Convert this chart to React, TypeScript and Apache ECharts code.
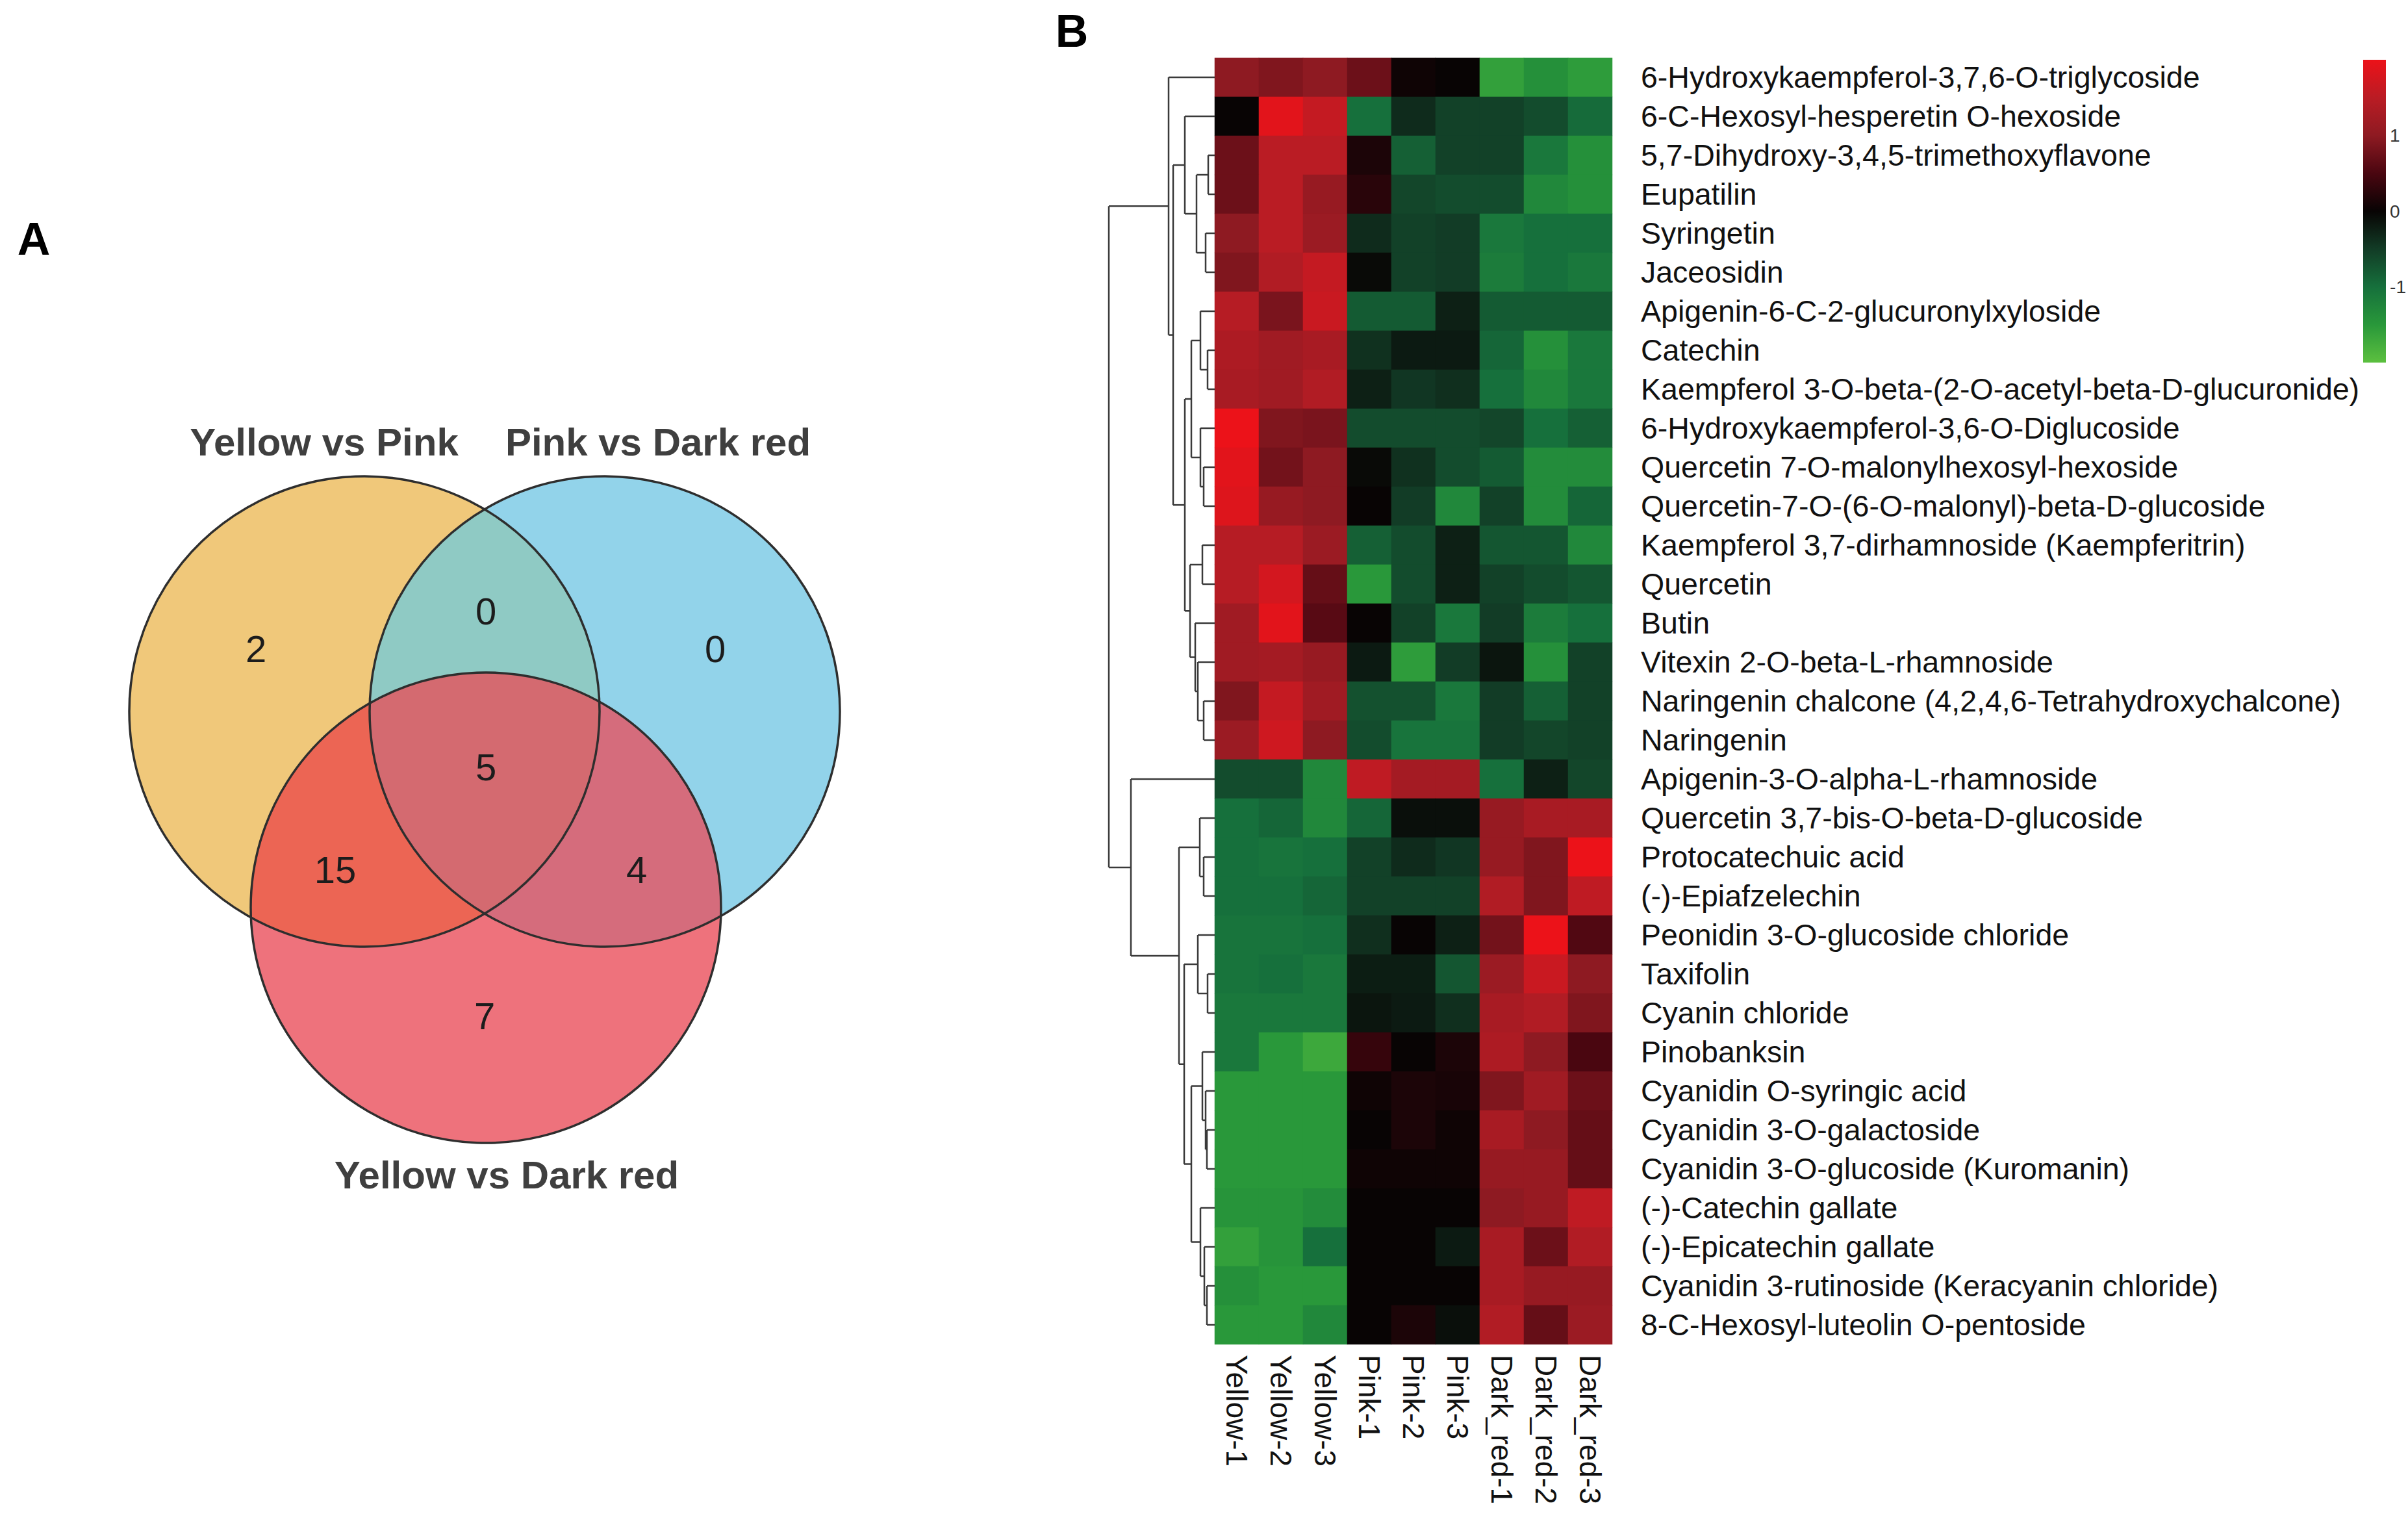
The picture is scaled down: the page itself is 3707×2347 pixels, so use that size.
import React, { useEffect, useRef } from 'react';
import * as echarts from 'echarts';

// ---------------- DATA ----------------
const sampleNames = ['Yellow-1', 'Yellow-2', 'Yellow-3', 'Pink-1', 'Pink-2', 'Pink-3', 'Dark_red-1', 'Dark_red-2', 'Dark_red-3'];

const compounds = [
  '6-Hydroxykaempferol-3,7,6-O-triglycoside',
  '6-C-Hexosyl-hesperetin O-hexoside',
  '5,7-Dihydroxy-3,4,5-trimethoxyflavone',
  'Eupatilin',
  'Syringetin',
  'Jaceosidin',
  'Apigenin-6-C-2-glucuronylxyloside',
  'Catechin',
  'Kaempferol 3-O-beta-(2-O-acetyl-beta-D-glucuronide)',
  '6-Hydroxykaempferol-3,6-O-Diglucoside',
  'Quercetin 7-O-malonylhexosyl-hexoside',
  'Quercetin-7-O-(6-O-malonyl)-beta-D-glucoside',
  'Kaempferol 3,7-dirhamnoside (Kaempferitrin)',
  'Quercetin',
  'Butin',
  'Vitexin 2-O-beta-L-rhamnoside',
  'Naringenin chalcone (4,2,4,6-Tetrahydroxychalcone)',
  'Naringenin',
  'Apigenin-3-O-alpha-L-rhamnoside',
  'Quercetin 3,7-bis-O-beta-D-glucoside',
  'Protocatechuic acid',
  '(-)-Epiafzelechin',
  'Peonidin 3-O-glucoside chloride',
  'Taxifolin',
  'Cyanin chloride',
  'Pinobanksin',
  'Cyanidin O-syringic acid',
  'Cyanidin 3-O-galactoside',
  'Cyanidin 3-O-glucoside (Kuromanin)',
  '(-)-Catechin gallate',
  '(-)-Epicatechin gallate',
  'Cyanidin 3-rutinoside (Keracyanin chloride)',
  '8-C-Hexosyl-luteolin O-pentoside',
];

// z-scores, one row per compound, columns in sampleNames order
const zScores: number[][] = [
  [1.0, 0.9, 1.0, 0.75, 0.05, 0.0, -1.6, -1.4, -1.55],
  [0.0, 1.9, 1.6, -1.0, -0.35, -0.55, -0.55, -0.65, -0.95],
  [0.75, 1.5, 1.5, 0.15, -0.85, -0.55, -0.55, -1.1, -1.4],
  [0.75, 1.5, 1.1, 0.25, -0.6, -0.65, -0.65, -1.3, -1.4],
  [1.0, 1.5, 1.15, -0.35, -0.55, -0.5, -1.1, -1.0, -1.0],
  [0.9, 1.4, 1.6, -0.05, -0.55, -0.5, -1.15, -1.0, -1.1],
  [1.45, 0.85, 1.65, -0.8, -0.8, -0.25, -0.8, -0.8, -0.8],
  [1.35, 1.2, 1.3, -0.4, -0.2, -0.2, -0.9, -1.4, -1.1],
  [1.3, 1.2, 1.4, -0.25, -0.45, -0.38, -1.0, -1.3, -1.1],
  [2.0, 0.9, 0.85, -0.65, -0.65, -0.65, -0.6, -1.0, -0.85],
  [1.9, 0.8, 1.0, -0.05, -0.4, -0.65, -0.8, -1.35, -1.35],
  [1.85, 1.1, 1.0, 0.0, -0.5, -1.3, -0.55, -1.35, -0.9],
  [1.45, 1.45, 1.15, -0.85, -0.65, -0.25, -0.75, -0.75, -1.3],
  [1.45, 1.75, 0.7, -1.5, -0.65, -0.25, -0.55, -0.65, -0.75],
  [1.2, 1.9, 0.6, 0.0, -0.55, -1.1, -0.5, -1.15, -1.0],
  [1.2, 1.25, 1.1, -0.2, -1.55, -0.5, -0.15, -1.4, -0.55],
  [0.9, 1.6, 1.2, -0.7, -0.7, -1.1, -0.5, -0.85, -0.55],
  [1.15, 1.7, 1.0, -0.65, -1.05, -1.05, -0.5, -0.6, -0.55],
  [-0.65, -0.65, -1.3, 1.55, 1.25, 1.25, -1.0, -0.25, -0.6],
  [-1.0, -0.9, -1.3, -0.9, -0.1, -0.1, 1.1, 1.3, 1.3],
  [-1.0, -1.05, -1.0, -0.55, -0.35, -0.45, 1.1, 0.9, 2.0],
  [-1.0, -1.0, -0.9, -0.55, -0.55, -0.55, 1.4, 0.9, 1.55],
  [-1.05, -1.05, -1.0, -0.38, 0.0, -0.25, 0.8, 2.0, 0.55],
  [-1.05, -1.0, -1.1, -0.22, -0.22, -0.75, 1.15, 1.65, 1.0],
  [-1.1, -1.1, -1.1, -0.15, -0.2, -0.38, 1.3, 1.4, 0.9],
  [-1.1, -1.5, -1.7, 0.35, 0.0, 0.15, 1.35, 1.0, 0.5],
  [-1.5, -1.5, -1.5, 0.05, 0.15, 0.12, 0.9, 1.2, 0.75],
  [-1.5, -1.5, -1.5, 0.0, 0.15, 0.05, 1.3, 1.0, 0.7],
  [-1.5, -1.5, -1.5, 0.05, 0.05, 0.05, 1.1, 1.1, 0.7],
  [-1.45, -1.45, -1.35, 0.0, 0.0, 0.0, 1.0, 1.1, 1.55],
  [-1.6, -1.45, -1.0, 0.0, 0.0, -0.2, 1.3, 0.75, 1.4],
  [-1.4, -1.5, -1.5, 0.0, 0.0, 0.0, 1.3, 1.1, 1.1],
  [-1.5, -1.5, -1.3, 0.0, 0.15, -0.1, 1.4, 0.7, 1.15],
];

// Row dendrogram merges: [left, right, height]; numbers = row index, strings = earlier merge 'n<k>'
const rowMerges: [number | string, number | string, number][] = [
  [2, 3, 10], // n0
  [4, 5, 14], // n1
  ['n0', 'n1', 28], // n2
  [1, 'n2', 46], // n3
  [7, 8, 11], // n4
  [6, 'n4', 22], // n5
  [10, 11, 17], // n6
  [9, 'n6', 22], // n7
  ['n5', 'n7', 36], // n8
  [12, 13, 19], // n9
  [16, 17, 17], // n10
  [15, 'n10', 26], // n11
  [14, 'n11', 30], // n12
  ['n9', 'n12', 38], // n13
  ['n8', 'n13', 46], // n14
  ['n3', 'n14', 64], // n15
  [0, 'n15', 71], // n16
  [20, 21, 17], // n17
  [19, 'n17', 23], // n18
  [23, 24, 11], // n19
  [22, 'n19', 26], // n20
  [27, 28, 12], // n21
  [26, 'n21', 14], // n22
  [25, 'n22', 19], // n23
  [31, 32, 12], // n24
  [30, 'n24', 16], // n25
  [29, 'n25', 22], // n26
  ['n23', 'n26', 36], // n27
  ['n20', 'n27', 47], // n28
  ['n18', 'n28', 55], // n29
  [18, 'n29', 129], // n30
  ['n16', 'n30', 163], // n31
];

const colorValueMin = -2;
const colorValueMax = 2;
const colorTicks = [-1, 0, 1];

const vennSetNames = ['Yellow vs Pink', 'Pink vs Dark red', 'Yellow vs Dark red'];
const vennRegionSets = [[0], [0, 1], [1], [0, 1, 2], [0, 2], [1, 2], [2]];
const vennRegionCounts = [2, 0, 0, 5, 15, 4, 7];

// ---------------- STYLE / LAYOUT ----------------
const FONT = '"Liberation Sans", Arial, Helvetica, sans-serif';
const heatPalette = ['#5CC03F', '#29983A', '#16703C', '#123C26', '#080404', '#4A0610', '#8E1A22', '#BA1C24', '#EC1219'];

const LAYOUT = {
  heat: { left: 1870, top: 89, cellW: 68, cellH: 60 },
  dendro: { left: 1700, width: 170, max: 170 },
  cbar: { left: 3638, top: 92, width: 35, height: 466 },
  venn: {
    centers: [[561, 1095], [931, 1095], [748, 1397]],
    r: 362,
    setLabelPos: [[499, 680], [1013, 680], [780, 1808]],
    countPos: [[394, 998], [748, 940], [1101, 998], [748, 1180], [516, 1338], [980, 1338], [746, 1563]],
  },
  panelA: [52, 368],
  panelB: [1650, 48],
};

const vennRegionColors = ['#F0C87A', '#8FCAC4', '#92D3EA', '#D46A70', '#EC6554', '#D56C7C', '#EE727C'];

function diskIntersection(cs: { cx: number; cy: number; r: number }[], n = 1440): number[][] {
  const pts: number[][] = [];
  cs.forEach((c, i) => {
    for (let k = 0; k < n; k++) {
      const t = (2 * Math.PI * k) / n;
      const x = c.cx + c.r * Math.cos(t);
      const y = c.cy + c.r * Math.sin(t);
      if (cs.every((o, j) => j === i || Math.hypot(x - o.cx, y - o.cy) <= o.r + 1e-6)) pts.push([x, y]);
    }
  });
  let mx = 0, my = 0;
  pts.forEach((p) => { mx += p[0]; my += p[1]; });
  mx /= pts.length; my /= pts.length;
  pts.sort((a, b) => Math.atan2(a[1] - my, a[0] - mx) - Math.atan2(b[1] - my, b[0] - mx));
  return pts;
}

function buildDendroSegments(): number[][] {
  const pos: Record<string, { y: number; h: number }> = {};
  compounds.forEach((_, i) => { pos['r' + i] = { y: i + 0.5, h: 0 }; });
  const key = (k: number | string) => (typeof k === 'number' ? 'r' + k : k);
  const segs: number[][] = [];
  rowMerges.forEach(([a, b, h], j) => {
    const A = pos[key(a)], B = pos[key(b)];
    segs.push([A.h, A.y, h, A.y]);
    segs.push([B.h, B.y, h, B.y]);
    segs.push([h, A.y, h, B.y]);
    pos['n' + j] = { y: (A.y + B.y) / 2, h };
  });
  return segs;
}

function buildVennGraphics(): any[] {
  const V = LAYOUT.venn;
  const circles = V.centers.map(([cx, cy]) => ({ cx, cy, r: V.r }));
  const els: any[] = [];
  let z = 1;
  [0, 2, 6].forEach((ri) => {
    const c = circles[vennRegionSets[ri][0]];
    els.push({ type: 'circle', z: z++, shape: { cx: c.cx, cy: c.cy, r: c.r }, style: { fill: vennRegionColors[ri] } });
  });
  [1, 4, 5, 3].forEach((ri) => {
    const pts = diskIntersection(vennRegionSets[ri].map((s) => circles[s]));
    els.push({ type: 'polygon', z: z++, shape: { points: pts }, style: { fill: vennRegionColors[ri] } });
  });
  circles.forEach((c) => {
    els.push({ type: 'circle', z: z++, shape: { cx: c.cx, cy: c.cy, r: c.r }, style: { fill: 'none', stroke: '#2e2e2e', lineWidth: 3.5 } });
  });
  vennSetNames.forEach((name, i) => {
    const [x, y] = V.setLabelPos[i];
    els.push({
      type: 'text', z: z++, x, y,
      style: { text: name, fill: '#3f3f3f', fontSize: 60, fontWeight: 'bold', fontFamily: FONT, align: 'center', verticalAlign: 'middle', textAlign: 'center', textVerticalAlign: 'middle' },
    });
  });
  vennRegionCounts.forEach((cnt, i) => {
    const [x, y] = V.countPos[i];
    els.push({
      type: 'text', z: z++, x, y,
      style: { text: String(cnt), fill: '#1c1c1c', fontSize: 58, fontFamily: FONT, align: 'center', verticalAlign: 'middle', textAlign: 'center', textVerticalAlign: 'middle' },
    });
  });
  return els;
}

export default function App() {
  const ref = useRef<HTMLDivElement>(null);

  useEffect(() => {
    if (!ref.current) return;
    const chart = echarts.init(ref.current, undefined, { renderer: 'svg' });
    const H = LAYOUT.heat;
    const gridW = sampleNames.length * H.cellW;
    const gridH = compounds.length * H.cellH;

    const heatData: number[][] = [];
    zScores.forEach((row, ri) => row.forEach((v, ci) => heatData.push([ci, ri, v])));

    const segs = buildDendroSegments();
    const C = LAYOUT.cbar;

    const gradStops = heatPalette.map((c, i) => ({ offset: 1 - i / (heatPalette.length - 1), color: c })).reverse();

    const graphics: any[] = [
      ...buildVennGraphics(),
      {
        type: 'rect', z: 100,
        shape: { x: C.left, y: C.top, width: C.width, height: C.height },
        style: { fill: new echarts.graphic.LinearGradient(0, 0, 0, 1, gradStops) },
      },
      {
        type: 'text', z: 100, x: LAYOUT.panelA[0], y: LAYOUT.panelA[1],
        style: { text: 'A', fill: '#000', fontSize: 70, fontWeight: 'bold', fontFamily: FONT, align: 'center', verticalAlign: 'middle', textAlign: 'center', textVerticalAlign: 'middle' },
      },
      {
        type: 'text', z: 100, x: LAYOUT.panelB[0], y: LAYOUT.panelB[1],
        style: { text: 'B', fill: '#000', fontSize: 70, fontWeight: 'bold', fontFamily: FONT, align: 'center', verticalAlign: 'middle', textAlign: 'center', textVerticalAlign: 'middle' },
      },
    ];

    const option: any = {
      animation: false,
      backgroundColor: '#ffffff',
      grid: [
        { left: H.left, top: H.top, width: gridW, height: gridH },
        { left: LAYOUT.dendro.left, top: H.top, width: LAYOUT.dendro.width, height: gridH },
        { left: C.left, top: C.top, width: C.width, height: C.height },
      ],
      xAxis: [
        {
          gridIndex: 0, type: 'category', data: sampleNames, position: 'bottom',
          axisLine: { show: false }, axisTick: { show: false }, splitLine: { show: false },
          axisLabel: { rotate: -90, fontSize: 46, color: '#111', fontFamily: FONT, margin: 16, interval: 0 },
        },
        { gridIndex: 1, type: 'value', min: 0, max: LAYOUT.dendro.max, inverse: true, show: false },
        { gridIndex: 2, type: 'value', min: 0, max: 1, show: false },
      ],
      yAxis: [
        {
          gridIndex: 0, type: 'category', data: compounds, inverse: true, position: 'right',
          axisLine: { show: false }, axisTick: { show: false }, splitLine: { show: false },
          axisLabel: { fontSize: 46.5, color: '#111', fontFamily: FONT, margin: 44, interval: 0 },
        },
        { gridIndex: 1, type: 'value', min: 0, max: compounds.length, inverse: true, show: false },
        {
          gridIndex: 2, type: 'value', min: colorValueMin, max: colorValueMax, interval: 1, position: 'right',
          axisLine: { show: false }, axisTick: { show: false }, splitLine: { show: false },
          axisLabel: {
            fontSize: 28, color: '#333', fontFamily: FONT, margin: 8,
            formatter: (v: number) => (colorTicks.includes(v) ? String(v) : ''),
          },
        },
      ],
      visualMap: {
        type: 'continuous', show: false, min: colorValueMin, max: colorValueMax, seriesIndex: 0,
        inRange: { color: heatPalette },
      },
      graphic: { elements: graphics },
      series: [
        {
          type: 'heatmap', xAxisIndex: 0, yAxisIndex: 0, data: heatData,
          itemStyle: { borderWidth: 0 }, emphasis: { disabled: true },
        },
        {
          type: 'custom', xAxisIndex: 1, yAxisIndex: 1, data: segs,
          encode: { x: [0, 2], y: [1, 3] },
          renderItem: (_p: any, api: any) => {
            const p1 = api.coord([api.value(0), api.value(1)]);
            const p2 = api.coord([api.value(2), api.value(3)]);
            return {
              type: 'line',
              shape: { x1: p1[0], y1: p1[1], x2: p2[0], y2: p2[1] },
              style: { stroke: '#3a3a3a', lineWidth: 2.5 },
            };
          },
        },
        { type: 'scatter', xAxisIndex: 2, yAxisIndex: 2, data: [] },
      ],
    };
    chart.setOption(option);
    return () => chart.dispose();
  }, []);

  return (
    <div
      ref={ref}
      style={{ position: 'fixed', left: 0, top: 0, width: 3707, height: 2347, background: '#fff' }}
    />
  );
}
